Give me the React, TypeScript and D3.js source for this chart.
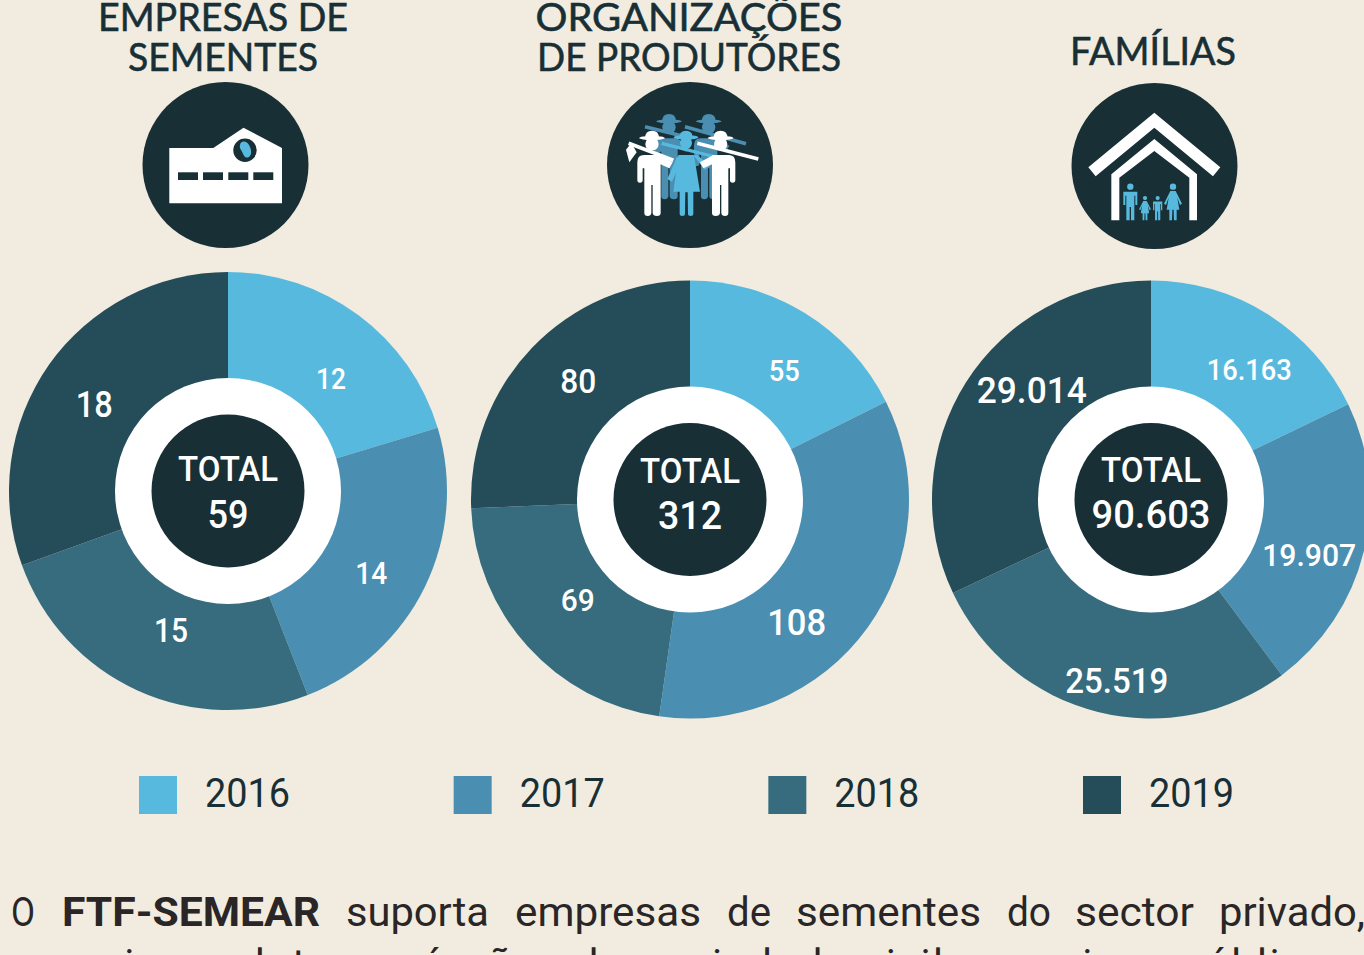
import React from 'react';
import * as d3 from 'd3';

const WIDTH = 1364;
const HEIGHT = 955;

const BG = '#f1ecdf';
const DARK = '#182f36';
const BODY_INK = '#2a2526';
const WHITE = '#ffffff';
const BLUE = '#58b9df';
const MID_BLUE = '#4a8eb1';

const years = ['2016', '2017', '2018', '2019'];
const yearColors = [BLUE, MID_BLUE, '#366c7d', '#254c59'];

const seedCompanies = [12, 14, 15, 18];
const producerOrgs = [55, 108, 69, 80];
const families = [16163, 19907, 25519, 29014];

const seedLabels = ['12', '14', '15', '18'];
const producerLabels = ['55', '108', '69', '80'];
const familyLabels = ['16.163', '19.907', '25.519', '29.014'];

const totals = ['59', '312', '90.603'];

const LABEL_FONT = 'Roboto, sans-serif';
const TITLE_FONT = 'Lato, sans-serif';

const OUTER_R = 219;
const LABEL_R = 166;
const RING_R = 113;
const CORE_R = 76.5;

// hand placement of the labels, relative to each slice's centroid
const seedNudges = [[4, 21], [-6, 9.5], [11.6, -12], [2, 8.5]];
const producerNudges = [[7, 12], [-28, 26], [11, -11], [8, -3]];
const familyNudges = [[10, 10], [-3, 15], [6, 20], [21, -21]];

// the source scales each label with its slice
const seedSizes = [29, 31, 33, 36];
const producerSizes = [29, 36, 31, 33];
const familySizes = [29.5, 32, 35, 36.5];
const seedWidths = [30, 32, 34, 37];
const producerWidths = [31, 59, 34, 36];
const familyWidths = [85, 94, 103, 110];

const charts = [
  { values: seedCompanies, labels: seedLabels, nudges: seedNudges, sizes: seedSizes, widths: seedWidths, total: totals[0], totalW: 41, cx: 228, cy: 491, totalY: [-23, 23] },
  { values: producerOrgs, labels: producerLabels, nudges: producerNudges, sizes: producerSizes, widths: producerWidths, total: totals[1], totalW: 64, cx: 690, cy: 499.5, totalY: [-29.5, 15.5] },
  { values: families, labels: familyLabels, nudges: familyNudges, sizes: familySizes, widths: familyWidths, total: totals[2], totalW: 119, cx: 1151, cy: 499.5, totalY: [-30.5, 14.5] },
];

const titles = [
  { lines: ['EMPRESAS DE', 'SEMENTES'], widths: [250, 190], x: 223, ys: [31, 71] },
  { lines: ['ORGANIZAÇÕES', 'DE PRODUTÓRES'], widths: [307, 304], x: 689, ys: [31, 71] },
  { lines: ['FAMÍLIAS'], widths: [166], x: 1153, ys: [65] },
];

const bodyWords = [
  { t: 'O', x: 11, w: 24 },
  { t: 'FTF-SEMEAR', x: 62, w: 258, bold: true },
  { t: 'suporta', x: 346, w: 143 },
  { t: 'empresas', x: 515, w: 186 },
  { t: 'de', x: 727, w: 44 },
  { t: 'sementes', x: 796, w: 185 },
  { t: 'do', x: 1007, w: 44 },
  { t: 'sector', x: 1075, w: 119 },
  { t: 'privado,', x: 1219, w: 146 },
];

const pie = d3.pie<number>().sort(null);
const labelArc = d3.arc<d3.PieArcDatum<number>>().innerRadius(LABEL_R).outerRadius(LABEL_R);
const sliceArc = d3.arc<d3.PieArcDatum<number>>().innerRadius(0).outerRadius(OUTER_R);

const legendX = d3.scaleLinear().domain([0, 3]).range([139, 1083]);

function Donut({ chart }: { chart: (typeof charts)[number] }) {
  const slices = pie(chart.values);
  return (
    <g transform={`translate(${chart.cx},${chart.cy})`}>
      {slices.map((s, i) => (
        <path key={i} d={sliceArc(s) || ''} fill={yearColors[i]} />
      ))}
      <circle r={RING_R} fill={WHITE} />
      <circle r={CORE_R} fill={DARK} />
      {slices.map((s, i) => {
        const [x, y] = labelArc.centroid(s);
        const [dx, dy] = chart.nudges[i];
        return (
          <text key={i} x={x + dx} y={y + dy} dy="0.36em" textAnchor="middle" fill={WHITE}
            fontFamily={LABEL_FONT} fontWeight={500} fontSize={chart.sizes[i]}
            textLength={chart.widths[i]} lengthAdjust="spacingAndGlyphs">
            {chart.labels[i]}
          </text>
        );
      })}
      <text y={chart.totalY[0]} dy="0.36em" textAnchor="middle" fill={WHITE} fontFamily={LABEL_FONT}
        fontWeight={500} fontSize={35} textLength={100} lengthAdjust="spacingAndGlyphs">TOTAL</text>
      <text y={chart.totalY[1]} dy="0.36em" textAnchor="middle" fill={WHITE} fontFamily={LABEL_FONT}
        fontWeight={500} fontSize={38} textLength={chart.totalW} lengthAdjust="spacingAndGlyphs">{chart.total}</text>
    </g>
  );
}

function SeedIcon() {
  return (
    <g>
      <circle cx={225.5} cy={165} r={83} fill={DARK} />
      <path d="M169.3,148 L213.3,148 L243.5,127.7 L282,148 L282,203.3 L169.3,203.3 Z" fill={WHITE} />
      <circle cx={245} cy={150.3} r={11.7} fill={DARK} />
      <path d="M240,145 C241,140 247,141 249,145 C252,150 252,156 248,157.5 C244,158.5 243,153 241,150 C240,148.5 239.5,147 240,145 Z" fill={BLUE} />
      {[178, 203, 228.3, 253.3].map(x => (
        <rect key={x} x={x} y={172.3} width={20} height={7.7} fill={DARK} />
      ))}
    </g>
  );
}

// pictograms below are drawn in the zoomed crop's units, hence the scale(1/3)
function Man({ cx, color, flip }: { cx: number; color: string; flip?: boolean }) {
  return (
    <g transform={`translate(${cx},0) scale(${flip ? -1 : 1},1)`} fill={color}>
      <ellipse cx={0} cy={189} rx={38} ry={6} />
      <path d="M-21,189 Q-20,167 0,167 Q21,167 21,189 Z" />
      <circle cx={0} cy={207} r={20} />
      <path d="M-44,262 Q-44,240 -24,240 L26,240 L26,414 Q26,423 15,423 Q3,423 2,414 L2,330 L-2,330 L-2,414 Q-3,423 -13,423 Q-23,423 -23,414 L-23,280 L-28,280 L-28,316 Q-28,323 -36,323 Q-44,323 -44,316 Z" />
      <path d="M22,240 L62,262 L52,280 L22,266 Z" />
    </g>
  );
}

function ProducerIcon() {
  return (
    <g>
      <circle cx={690} cy={165} r={83} fill={DARK} />
      <g transform="translate(590,75) scale(0.3333)">
        <g transform="translate(0,-50)">
          <Man cx={237} color={MID_BLUE} />
          <Man cx={356} color={MID_BLUE} />
        </g>
        <path d="M165,155 L305,190 M285,155 L468,206" stroke={MID_BLUE} strokeWidth={11} />
        <Man cx={186} color={WHITE} />
        <path d="M116,205 L250,256" stroke={WHITE} strokeWidth={11} />
        <path d="M108,224 L124,204 L140,232 L118,262 Z" fill={WHITE} />
        <g fill={BLUE}>
          <ellipse cx={288} cy={187} rx={37} ry={7} />
          <path d="M268,187 Q268,167 288,167 Q308,167 308,187 Z" />
          <circle cx={288} cy={204} r={18} />
          <path d="M265,240 L312,240 L330,350 L310,350 L310,418 Q310,423 302,423 Q294,423 294,418 L293,352 L286,352 L285,418 Q285,423 277,423 Q269,423 269,418 L269,350 L250,350 Z" />
          <path d="M262,243 L232,312 L246,320 L272,262 Z M312,243 L345,285 L358,272 L320,238 Z" />
        </g>
        <path d="M215,205 L400,252" stroke={BLUE} strokeWidth={10} />
        <Man cx={392} color={WHITE} flip />
        <path d="M322,205 L505,252" stroke={WHITE} strokeWidth={11} />
      </g>
    </g>
  );
}

function Adult({ cx, color, woman }: { cx: number; color: string; woman?: boolean }) {
  return (
    <g fill={color} transform={`translate(${cx},0)`}>
      <circle cy={335} r={9.5} />
      {woman ? (
        <path d="M-8,348 L8,348 L27,386 L21,390 L13,368 L19,404 L11,404 L11,436 L3,436 L2,404 L-2,404 L-3,436 L-11,436 L-11,404 L-19,404 L-13,368 L-21,390 L-27,386 Z" />
      ) : (
        <path d="M-21,350 L21,350 L21,390 L15,390 L15,362 L12,362 L12,436 L2,436 L2,396 L-2,396 L-2,436 L-12,436 L-12,362 L-15,362 L-15,390 L-21,390 Z" />
      )}
    </g>
  );
}

function FamilyIcon() {
  return (
    <g>
      <circle cx={1154.5} cy={166} r={83} fill={DARK} />
      <g transform="translate(1060,75) scale(0.3333)">
        <path d="M283,113 L481,277 L459,304 L283,158 L107,304 L85,277 Z" fill={WHITE} />
        <path d="M283,192 L411,298 L411,436 L388,436 L388,308 L283,228 L178,308 L178,436 L154,436 L154,298 Z" fill={WHITE} />
        <Adult cx={211} color={BLUE} />
        <Adult cx={339} color={BLUE} woman />
        <g transform="translate(255,436) scale(0.66) translate(-255,-436)">
          <Adult cx={255} color={BLUE} woman />
        </g>
        <g transform="translate(293,436) scale(0.66) translate(-293,-436)">
          <Adult cx={293} color={BLUE} />
        </g>
      </g>
    </g>
  );
}

export default function App() {
  return (
    <svg width={WIDTH} height={HEIGHT} viewBox={`0 0 ${WIDTH} ${HEIGHT}`}
      style={{ position: 'fixed', left: 0, top: 0, display: 'block' }}>
      <rect width={WIDTH} height={HEIGHT} fill={BG} />

      {titles.map((title, i) => (
        <g key={i}>
          {title.lines.map((line, j) => (
            <text key={j} x={title.x} y={title.ys[j]} textAnchor="middle" fill={DARK} stroke={DARK} strokeWidth={0.6}
              fontFamily={TITLE_FONT} fontWeight={400} fontSize={39}
              textLength={title.widths[j]} lengthAdjust="spacingAndGlyphs">
              {line}
            </text>
          ))}
        </g>
      ))}

      <SeedIcon />
      <ProducerIcon />
      <FamilyIcon />

      {charts.map((chart, i) => <Donut key={i} chart={chart} />)}

      {years.map((year, i) => (
        <g key={year} transform={`translate(${legendX(i)},776)`}>
          <rect width={38} height={38} fill={yearColors[i]} />
          <text x={66} y={31} fill={DARK} fontFamily={LABEL_FONT} fontSize={40} fontWeight={400}
            textLength={85} lengthAdjust="spacingAndGlyphs">{year}</text>
        </g>
      ))}

      {bodyWords.map(word => (
        <text key={word.t} x={word.x} y={926} fill={BODY_INK} fontFamily={LABEL_FONT} fontSize={41}
          fontWeight={word.bold ? 700 : 400} textLength={word.w} lengthAdjust="spacingAndGlyphs">
          {word.t}
        </text>
      ))}
      <text x={11} y={978} fill={BODY_INK} fontFamily={LABEL_FONT} fontSize={41} fontWeight={400}
        textLength={1342} lengthAdjust="spacing">
        e apoia produtores, órgãos da sociedade civil e serviços públicos
      </text>
    </svg>
  );
}
